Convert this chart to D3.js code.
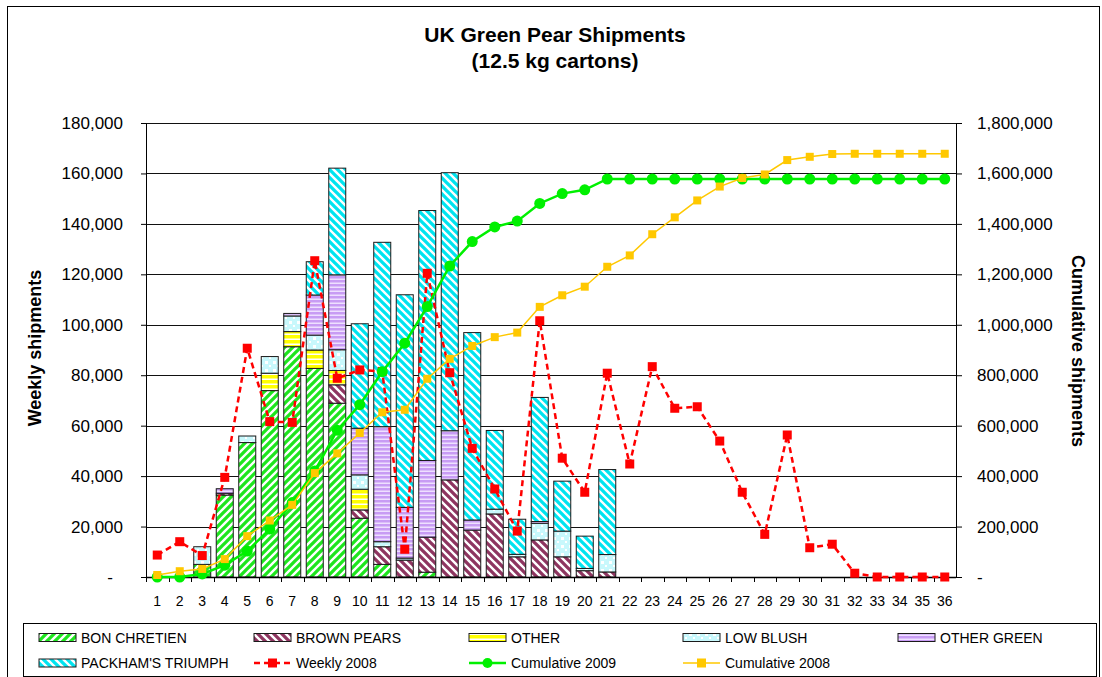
<!DOCTYPE html>
<html><head><meta charset="utf-8">
<script src="https://cdn.jsdelivr.net/npm/d3@7"></script>
<style>
html,body{margin:0;padding:0;background:#fff;}
svg{display:block;font-family:"Liberation Sans",Arial,sans-serif;}
</style></head><body>
<svg id="chart" width="1102" height="677"></svg>
<script>
// ---------- DATA ----------
const weeks = ["1","2","3","4","5","6","7","8","9","10","11","12","13","14","15","16","17","18",
  "19","20","21","22","23","24","25","26","27","28","29","30","31","32","33","34","35","36"];
const bonChretien = [0,0,5000,32500,53300,73900,91300,82700,68900,23300,5000,0,1900,0,0,0,0,0,0,0,0,0,0,0,0,0,0,0,0,0,0,0,0,0,0,0];
const brownPears  = [0,0,0,700,0,0,0,0,7300,3300,7000,6700,13900,38500,18600,25000,8000,14700,8000,2500,2000,0,0,0,0,0,0,0,0,0,0,0,0,0,0,0];
const other       = [0,0,0,0,0,6900,6000,7300,5700,8200,0,0,0,0,0,0,0,0,0,0,0,0,0,0,0,0,0,0,0,0,0,0,0,0,0,0];
const lowBlush    = [0,0,7000,0,2600,6600,6200,5900,8200,5700,2000,800,0,0,0,1900,1000,6600,10200,900,6900,0,0,0,0,0,0,0,0,0,0,0,0,0,0,0];
const otherGreen  = [0,0,0,1800,0,0,1000,15900,29700,18500,45600,20100,30400,19500,4000,0,0,700,0,0,0,0,0,0,0,0,0,0,0,0,0,0,0,0,0,0];
const packham     = [0,0,0,0,0,0,0,13200,42300,41400,73100,84300,99100,102300,74300,31200,13900,49200,19800,12800,33700,0,0,0,0,0,0,0,0,0,0,0,0,0,0,0];
const weekly2008  = [8700,14000,8500,39500,90700,61600,61300,125400,78800,82100,81500,11000,120400,81000,51000,34900,18200,101600,47100,33600,
  80800,44800,83400,66900,67500,53900,33600,16900,56300,11600,13000,1500,0,0,0,0];
const cum2009     = [0,0,12000,47000,103000,190000,295000,420000,582000,683000,814000,927000,1072000,1233000,1330000,1388000,1411000,1481000,
  1520000,1535000,1578000,1578000,1578000,1578000,1578000,1578000,1578000,1578000,1578000,1578000,1578000,1578000,1578000,1578000,1578000,1578000];
const cum2008     = [8000,23000,32000,71000,162000,224000,286000,412000,490000,571000,653000,663000,786000,865000,916000,951000,969000,1071000,
  1117000,1151000,1230000,1275000,1359000,1426000,1493000,1548000,1582000,1596000,1653000,1666000,1677000,1678000,1678000,1678000,1678000,1678000];
const leftTicks  = [0,20000,40000,60000,80000,100000,120000,140000,160000,180000];
const rightTicks = [0,200000,400000,600000,800000,1000000,1200000,1400000,1600000,1800000];
const barSeries = ["BON CHRETIEN","BROWN PEARS","OTHER","LOW BLUSH","OTHER GREEN","PACKHAM'S TRIUMPH"];
const barArrays = [bonChretien, brownPears, other, lowBlush, otherGreen, packham];
const lineSeries = ["Weekly 2008","Cumulative 2009","Cumulative 2008"];

// ---------- SETUP ----------
const svg = d3.select("#chart");
const L = 146, R = 956, T = 123, B = 577;
const x = d3.scaleBand().domain(weeks).range([L, R]).paddingInner(0.2).paddingOuter(0.1);
const y = d3.scaleLinear().domain([0, 180000]).range([B, T]);
const y2 = d3.scaleLinear().domain([0, 1800000]).range([B, T]);
const cx = w => x(w) + x.bandwidth() / 2;

// patterns
const defs = svg.append("defs");
function diag(id, color, dir, sw) {
  const p = defs.append("pattern").attr("id", id).attr("patternUnits", "userSpaceOnUse").attr("width", 8).attr("height", 8);
  p.append("rect").attr("width", 8).attr("height", 8).attr("fill", "#fff");
  const d = dir === "up" ? "M-2,2 L2,-2 M0,8 L8,0 M6,10 L10,6" : "M-2,6 L2,10 M0,0 L8,8 M6,-2 L10,2";
  p.append("path").attr("d", d).attr("stroke", color).attr("stroke-width", sw);
}
diag("pBC", "#1ee61e", "up", 3.3);
diag("pBR", "#8e3560", "down", 3.3);
diag("pPK", "#00e4f0", "down", 3.3);
{
  const p = defs.append("pattern").attr("id", "pOT").attr("patternUnits", "userSpaceOnUse").attr("width", 4).attr("height", 5);
  p.append("rect").attr("width", 4).attr("height", 5).attr("fill", "#ffff00");
  p.append("rect").attr("y", 3.5).attr("width", 4).attr("height", 1.5).attr("fill", "#fff");
}
{
  const p = defs.append("pattern").attr("id", "pOG").attr("patternUnits", "userSpaceOnUse").attr("width", 4).attr("height", 4);
  p.append("rect").attr("width", 4).attr("height", 4).attr("fill", "#c89cf4");
  p.append("rect").attr("y", 2.5).attr("width", 4).attr("height", 1.5).attr("fill", "#eee0ff");
}
{
  const p = defs.append("pattern").attr("id", "pLB").attr("patternUnits", "userSpaceOnUse").attr("width", 8).attr("height", 8);
  p.append("rect").attr("width", 8).attr("height", 8).attr("fill", "#c8f8fc");
  p.append("rect").attr("x", 1).attr("y", 1).attr("width", 3).attr("height", 3).attr("fill", "#fff");
  p.append("rect").attr("x", 5).attr("y", 5).attr("width", 2).attr("height", 2).attr("fill", "#fff");
}
const fills = ["url(#pBC)","url(#pBR)","url(#pOT)","url(#pLB)","url(#pOG)","url(#pPK)"];

// outer border
svg.append("rect").attr("x", 7.5).attr("y", 6.5).attr("width", 1092).attr("height", 700)
  .attr("fill", "none").attr("stroke", "#000").attr("stroke-width", 1);

// title
svg.append("text").attr("x", 555).attr("y", 42).attr("text-anchor", "middle")
  .attr("font-size", 21).attr("font-weight", "bold").text("UK Green Pear Shipments");
svg.append("text").attr("x", 555).attr("y", 68).attr("text-anchor", "middle")
  .attr("font-size", 21).attr("font-weight", "bold").text("(12.5 kg cartons)");

// gridlines
svg.append("g").selectAll("line").data(leftTicks.filter(d => d > 0)).join("line")
  .attr("x1", L).attr("x2", R).attr("y1", d => Math.round(y(d)) + 0.5).attr("y2", d => Math.round(y(d)) + 0.5)
  .attr("stroke", "#111").attr("stroke-width", 1);

// stacked bars
const rows = weeks.map((w, i) => {
  const o = { week: w };
  barSeries.forEach((s, j) => o[s] = barArrays[j][i]);
  return o;
});
const stacked = d3.stack().keys(barSeries)(rows);
const gBars = svg.append("g");
stacked.forEach((layer, j) => {
  gBars.append("g").selectAll("rect").data(layer.filter(d => d[1] - d[0] > 0)).join("rect")
    .attr("x", d => x(d.data.week) + 0.5)
    .attr("width", x.bandwidth() - 1)
    .attr("y", d => y(d[1]))
    .attr("height", d => y(d[0]) - y(d[1]))
    .attr("fill", fills[j])
    .attr("stroke", "#1a1a1a").attr("stroke-width", 1);
});

// axes
const fmt = d => d === 0 ? "-" : d3.format(",")(d);
const gL = svg.append("g").attr("transform", `translate(${L},0)`)
  .call(d3.axisLeft(y).tickValues(leftTicks).tickSize(5).tickPadding(18).tickFormat(fmt));
gL.selectAll("text").attr("font-size", 17).attr("font-family", "Liberation Sans, Arial, sans-serif").attr("fill", "#000")
  .attr("dx", d => d === 0 ? -10 : 0);
const gR = svg.append("g").attr("transform", `translate(${R},0)`)
  .call(d3.axisRight(y2).tickValues(rightTicks).tickSize(6).tickPadding(15).tickFormat(fmt));
gR.selectAll("text").attr("font-size", 17).attr("font-family", "Liberation Sans, Arial, sans-serif").attr("fill", "#000");
[gL, gR].forEach(g => { g.select(".domain").attr("stroke", "#000"); g.selectAll(".tick line").attr("stroke", "#000"); });

const gX = svg.append("g").attr("transform", `translate(0,${B})`)
  .call(d3.axisBottom(x).tickSize(0).tickPadding(19));
gX.select(".domain").remove();
gX.selectAll("text").attr("font-size", 14).attr("font-family", "Liberation Sans, Arial, sans-serif").attr("fill", "#000");
svg.append("line").attr("x1", L).attr("x2", R).attr("y1", B + 0.5).attr("y2", B + 0.5).attr("stroke", "#000").attr("stroke-width", 1.5);
const step = x.step();
svg.append("g").selectAll("line").data(weeks).join("line")
  .attr("x1", d => Math.round(x(d) - (step - x.bandwidth()) / 2) + 0.5)
  .attr("x2", d => Math.round(x(d) - (step - x.bandwidth()) / 2) + 0.5)
  .attr("y1", B).attr("y2", B + 5).attr("stroke", "#000");

// axis titles
svg.append("text").attr("transform", "translate(35,348) rotate(-90)").attr("text-anchor", "middle")
  .attr("dominant-baseline", "central").attr("font-size", 18).attr("font-weight", "bold").text("Weekly shipments");
svg.append("text").attr("transform", "translate(1078,351) rotate(90)").attr("text-anchor", "middle")
  .attr("dominant-baseline", "central").attr("font-size", 18).attr("font-weight", "bold").text("Cumulative shipments");

// lines
const lineL = d3.line().x((d, i) => cx(weeks[i])).y(d => y(d));
const lineR = d3.line().x((d, i) => cx(weeks[i])).y(d => y2(d));
// weekly 2008
svg.append("path").datum(weekly2008).attr("d", lineL).attr("fill", "none")
  .attr("stroke", "#ff0000").attr("stroke-width", 2.5).attr("stroke-dasharray", "6,4");
svg.append("g").selectAll("rect").data(weekly2008).join("rect")
  .attr("x", (d, i) => cx(weeks[i]) - 4.5).attr("y", d => y(d) - 4.5).attr("width", 9).attr("height", 9).attr("fill", "#ff0000");
// cumulative 2009
svg.append("path").datum(cum2009).attr("d", lineR).attr("fill", "none")
  .attr("stroke", "#00f000").attr("stroke-width", 2.5);
svg.append("g").selectAll("circle").data(cum2009).join("circle")
  .attr("cx", (d, i) => cx(weeks[i])).attr("cy", d => y2(d)).attr("r", 5.5).attr("fill", "#00f000");
// cumulative 2008
svg.append("path").datum(cum2008).attr("d", lineR).attr("fill", "none")
  .attr("stroke", "#ffc800").attr("stroke-width", 1.5);
svg.append("g").selectAll("rect").data(cum2008).join("rect")
  .attr("x", (d, i) => cx(weeks[i]) - 4).attr("y", d => y2(d) - 4).attr("width", 8).attr("height", 8).attr("fill", "#ffc800");

// legend
const lg = svg.append("g");
lg.append("rect").attr("x", 23.5).attr("y", 623.5).attr("width", 1073).attr("height", 53)
  .attr("fill", "#fff").attr("stroke", "#000").attr("stroke-width", 1);
const colX = [39, 254, 469, 683, 898];
const rowY = [637.5, 663];
const items = barSeries.map((s, j) => ({ name: s, type: "bar", j }))
  .concat(lineSeries.map((s, j) => ({ name: s, type: "line", j })));
items.forEach((it, k) => {
  const cxL = colX[k % 5], cyL = rowY[Math.floor(k / 5)];
  const g = lg.append("g");
  if (it.type === "bar") {
    g.append("rect").attr("x", cxL).attr("y", cyL - 4).attr("width", 37).attr("height", 8)
      .attr("fill", fills[it.j]).attr("stroke", "#1a1a1a");
  } else {
    const col = ["#ff0000", "#00f000", "#ffc800"][it.j];
    g.append("line").attr("x1", cxL).attr("x2", cxL + 37).attr("y1", cyL).attr("y2", cyL)
      .attr("stroke", col).attr("stroke-width", it.j === 2 ? 1.5 : 2.5)
      .attr("stroke-dasharray", it.j === 0 ? "6,4" : null);
    if (it.j === 1) g.append("circle").attr("cx", cxL + 18.5).attr("cy", cyL).attr("r", 5).attr("fill", col);
    else g.append("rect").attr("x", cxL + 14).attr("y", cyL - 4.5).attr("width", 9).attr("height", 9).attr("fill", col);
  }
  g.append("text").attr("x", cxL + 42).attr("y", cyL + 5).attr("font-size", 14).text(it.name);
});
</script>
</body></html>
